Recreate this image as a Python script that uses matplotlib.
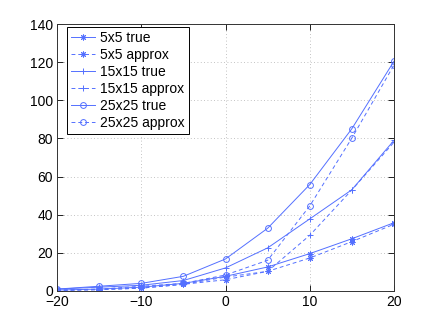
import matplotlib
matplotlib.use("Agg")
import matplotlib.pyplot as plt

x = [-20, -15, -10, -5, 0, 5, 10, 15, 20]
s5_true = [0.5, 1.0, 2.0, 4.0, 7.7, 12.6, 19.6, 27.4, 35.8]
s5_approx = [0.3, 0.7, 1.5, 3.5, 5.9, 10.3, 17.3, 25.9, 35.0]
s15_true = [1.0, 2.0, 3.0, 5.5, 12.1, 22.6, 37.8, 53.1, 79.0]
s15_approx = [0.3, 0.7, 1.5, 3.5, 7.3, 10.3, 29.2, 53.0, 78.0]
s25_true = [1.0, 2.5, 4.0, 7.7, 16.8, 32.9, 55.8, 85.1, 120.5]
s25_approx = [0.5, 1.0, 2.5, 4.0, 8.4, 16.1, 44.6, 80.2, 118.5]
labels = ["5x5 true", "5x5 approx", "15x15 true", "15x15 approx",
          "25x25 true", "25x25 approx"]
xticks = [-20, -10, 0, 10, 20]
yticks = [0, 20, 40, 60, 80, 100, 120, 140]

plt.rcParams['font.family'] = ['Liberation Sans', 'DejaVu Sans']
plt.rcParams['axes.unicode_minus'] = True

fig = plt.figure(figsize=(4.36, 3.28), dpi=100)
ax = fig.add_axes([57/436, 37/328, 337/436, 267/328])

c = '#5470ff'
lw = 0.7
series = [
    (s5_true, '-', (8, 2, 0)),
    (s5_approx, '--', (8, 2, 0)),
    (s15_true, '-', '+'),
    (s15_approx, '--', '+'),
    (s25_true, '-', 'o'),
    (s25_approx, '--', 'o'),
]
for (ys, ls, mk), lab in zip(series, labels):
    kw = dict(dashes=(4, 3)) if ls == '--' else {}
    ax.plot(x, ys, linestyle=ls, marker=mk, color=c, lw=lw, ms=4.2,
            mew=0.7, fillstyle='none', label=lab, **kw)

ax.set_xlim(-20, 20)
ax.set_ylim(0, 140)
ax.set_xticks(xticks)
ax.set_yticks(yticks)
ax.tick_params(direction='in', length=4, width=0.6, labelsize=10, colors='black',
               top=True, right=True, pad=3)
ax.grid(True, linestyle=(0, (1, 3)), color='#b0b0b0', lw=0.6)
for s in ax.spines.values():
    s.set_linewidth(0.7)
    s.set_color('#333333')

leg = ax.legend(loc='upper left', bbox_to_anchor=(0.03, 0.99), fontsize=10,
                frameon=True, fancybox=False, edgecolor='black', framealpha=1,
                handlelength=1.7, handletextpad=0.35, labelspacing=0.22,
                borderpad=0.3, borderaxespad=0)
leg.get_frame().set_linewidth(0.7)

fig.savefig('out.png', dpi=100)
